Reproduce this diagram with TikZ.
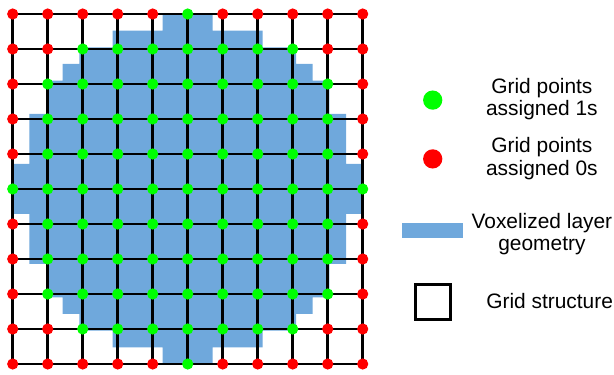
\documentclass[tikz,border=0pt]{standalone}
\usepackage{fontspec}
\setmainfont{Liberation Sans}
\usetikzlibrary{positioning}
\definecolor{ptgreen}{HTML}{00FF00}
\definecolor{ptred}{HTML}{FF0000}
\definecolor{voxblue}{HTML}{6FA8DC}
\tikzset{
  gpt/.style={circle,fill=#1,minimum size=0.32cm,inner sep=0pt},
  gline/.style={line width=2.1pt,black},
  keydot/.style={circle,fill=#1,minimum size=0.55cm,inner sep=0pt},
  keytext/.style={align=center,font=\fontsize{17}{18.5}\selectfont},
}
\begin{document}
\begin{tikzpicture}
  \useasboundingbox (-0.363,-0.286) rectangle (17.18,10.4);

  % voxelized layer (21 voxels across)
  \begin{scope}[shift={(5,5)},scale=10/21]
    \fill[voxblue] (-1.5,10.5) -- (1.5,10.5) -- (1.5,9.5) -- (4.5,9.5) -- (4.5,8.5)
      -- (6.5,8.5) -- (6.5,7.5) -- (7.5,7.5) -- (7.5,6.5) -- (8.5,6.5) -- (8.5,4.5)
      -- (9.5,4.5) -- (9.5,1.5) -- (10.5,1.5) -- (10.5,-1.5) -- (9.5,-1.5) -- (9.5,-4.5)
      -- (8.5,-4.5) -- (8.5,-6.5) -- (7.5,-6.5) -- (7.5,-7.5) -- (6.5,-7.5) -- (6.5,-8.5)
      -- (4.5,-8.5) -- (4.5,-9.5) -- (1.5,-9.5) -- (1.5,-10.5) -- (-1.5,-10.5) -- (-1.5,-9.5)
      -- (-4.5,-9.5) -- (-4.5,-8.5) -- (-6.5,-8.5) -- (-6.5,-7.5) -- (-7.5,-7.5) -- (-7.5,-6.5)
      -- (-8.5,-6.5) -- (-8.5,-4.5) -- (-9.5,-4.5) -- (-9.5,-1.5) -- (-10.5,-1.5) -- (-10.5,1.5)
      -- (-9.5,1.5) -- (-9.5,4.5) -- (-8.5,4.5) -- (-8.5,6.5) -- (-7.5,6.5) -- (-7.5,7.5)
      -- (-6.5,7.5) -- (-6.5,8.5) -- (-4.5,8.5) -- (-4.5,9.5) -- (-1.5,9.5) -- cycle;
  \end{scope}

  % grid structure
  \draw[gline] (0,0) grid (10,10);

  % grid points
  \foreach \i in {0,...,10} {
    \foreach \j in {0,...,10} {
      \pgfmathtruncatemacro\inside{((\i-5)^2+(\j-5)^2<=25)}
      \ifnum\inside=1
        \node[gpt=ptgreen] (p-\i-\j) at (\i,\j) {};
      \else
        \node[gpt=ptred] (p-\i-\j) at (\i,\j) {};
      \fi
    }
  }

  % legend
  \node[keydot=ptgreen] (k1) at (12,7.54) {};
  \node[keytext] (t1) at (15.12,7.57) {Grid points\\assigned 1s};
  \node[keydot=ptred] (k0) at (12,5.86) {};
  \node[keytext] (t0) at (15.12,5.87) {Grid points\\assigned 0s};
  \node[fill=voxblue,minimum width=1.75cm,minimum height=0.43cm,inner sep=0pt] (kv) at (12,3.815) {};
  \node[keytext] (tv) at (15.12,3.71) {Voxelized layer\\geometry};
  \node[draw,line width=2.1pt,minimum size=1.0cm,inner sep=0pt] (kg) at (12,1.77) {};
  \node[keytext] (tg) at (15.34,1.81) {Grid structure};
\end{tikzpicture}
\end{document}
